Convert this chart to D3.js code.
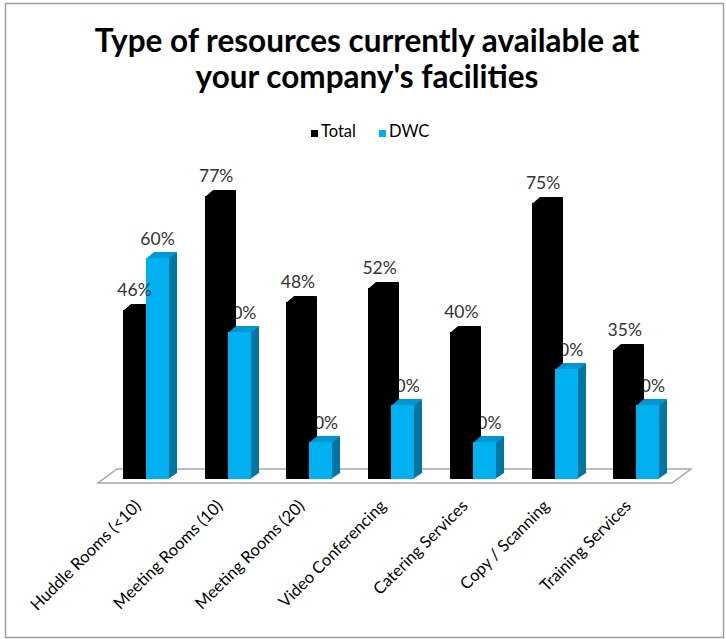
<!DOCTYPE html>
<html><head><meta charset="utf-8">
<script src="https://cdn.jsdelivr.net/npm/d3@7"></script>
<style>body{margin:0;background:#fff;} svg{display:block;}</style>
</head><body>
<svg id="chart" width="726" height="639"></svg>
<script>
const categories = ["Huddle Rooms (<10)", "Meeting Rooms (10)", "Meeting Rooms (20)", "Video Conferencing", "Catering Services", "Copy / Scanning", "Training Services"];
const seriesNames = ["Total", "DWC"];
const totalValues = [46, 77, 48, 52, 40, 75, 35];
const dwcValues = [60, 40, 10, 20, 10, 30, 20];
const titleLines = ["Type of resources currently available at", "your company's facilities"];

const FONT = "Lato, 'Open Sans', sans-serif";
const svg = d3.select("#chart");

svg.append("rect").attr("x", 5.5).attr("y", 3.5).attr("width", 718).attr("height", 634)
  .attr("fill", "#fff").attr("stroke", "#a0a0a0").attr("stroke-width", 1.5);

const x = d3.scaleBand().domain(categories).range([98, 670]).padding(0).round(false);
const x1 = d3.scaleBand().domain(seriesNames).range([25, 71]).padding(0);
const y = d3.scaleLinear().domain([0, 100]).range([479, 111]);
const color = d3.scaleOrdinal().domain(seriesNames).range(["#000000", "#00B0F0"]);
const topColor = d3.scaleOrdinal().domain(seriesNames).range(["#000000", "#0096CF"]);
const sideColor = d3.scaleOrdinal().domain(seriesNames).range(["#000000", "#0077A3"]);
const DX = 8, DY = -6;

// title
svg.append("g").selectAll("text").data(titleLines).join("text")
  .attr("x", 367).attr("y", (d, i) => 52 + i * 36)
  .attr("text-anchor", "middle").attr("font-family", FONT).attr("font-weight", "bold")
  .attr("font-size", 31.5).attr("fill", "#000").text(d => d);

// legend
const legend = svg.append("g");
const legX = [311, 379];
seriesNames.forEach((s, i) => {
  legend.append("rect").attr("x", legX[i]).attr("y", 130).attr("width", 7).attr("height", 7).attr("fill", color(s));
  legend.append("text").attr("x", legX[i] + 10).attr("y", 137).attr("font-family", FONT)
    .attr("font-size", 16.5).attr("fill", "#000").text(s);
});

// floor
const [fx0, fx1] = x.range();
const fy = 483, fdx = 19, fdy = -14;
svg.append("path")
  .attr("d", `M${fx0},${fy} L${fx1 + 2},${fy} L${fx1 + 2 + fdx},${fy + fdy} L${fx0 + fdx},${fy + fdy} Z`)
  .attr("fill", "#fff").attr("stroke", "#a6a6a6").attr("stroke-width", 1.5);

const rows = categories.map((c, i) => ({ cat: c, Total: totalValues[i], DWC: dwcValues[i] }));

function bar3d(g, s, xs, v) {
  const x0 = Math.round(xs), w = x1.bandwidth(), yt = Math.round(y(v)), yb = y(0);
  // side face (starts 1px inside the front to avoid seams)
  g.append("path").attr("d", `M${x0 + w - 1},${yt} L${x0 + w + DX},${yt + DY} L${x0 + w + DX},${yb + DY} L${x0 + w - 1},${yb} Z`)
    .attr("fill", sideColor(s));
  // top face
  g.append("path").attr("d", `M${x0},${yt + 1} L${x0 + DX},${yt + DY} L${x0 + w + DX},${yt + DY} L${x0 + w},${yt + 1} Z`)
    .attr("fill", topColor(s));
  // front face
  g.append("rect").attr("x", x0).attr("y", yt).attr("width", w).attr("height", yb - yt).attr("fill", color(s));
}

const labelFmt = v => v + "%";
// DWC labels (drawn first, partially hidden by Total bars as in the original)
svg.append("g").selectAll("text").data(rows).join("text")
  .attr("x", d => x(d.cat) + x1("DWC") + x1.bandwidth() / 2)
  .attr("y", d => y(d.DWC) - 13)
  .attr("text-anchor", "middle").attr("font-family", FONT).attr("font-size", 17.5).attr("fill", "#333")
  .text(d => labelFmt(d.DWC));

const barsG = svg.append("g");
rows.forEach(d => bar3d(barsG, "Total", x(d.cat) + x1("Total"), d.Total));
rows.forEach(d => bar3d(barsG, "DWC", x(d.cat) + x1("DWC"), d.DWC));

svg.append("g").selectAll("text").data(rows).join("text")
  .attr("x", d => x(d.cat) + x1("Total") + x1.bandwidth() / 2)
  .attr("y", d => y(d.Total) - 14)
  .attr("text-anchor", "middle").attr("font-family", FONT).attr("font-size", 17.5).attr("fill", "#333")
  .text(d => labelFmt(d.Total));

// category labels
svg.append("g").selectAll("text").data(categories).join("text")
  .attr("transform", d => `translate(${x(d) + x.bandwidth() / 2 + 3},${507}) rotate(-45)`)
  .attr("text-anchor", "end").attr("font-family", FONT).attr("font-size", 16.5).attr("fill", "#000")
  .text(d => d);
</script>
</body></html>
